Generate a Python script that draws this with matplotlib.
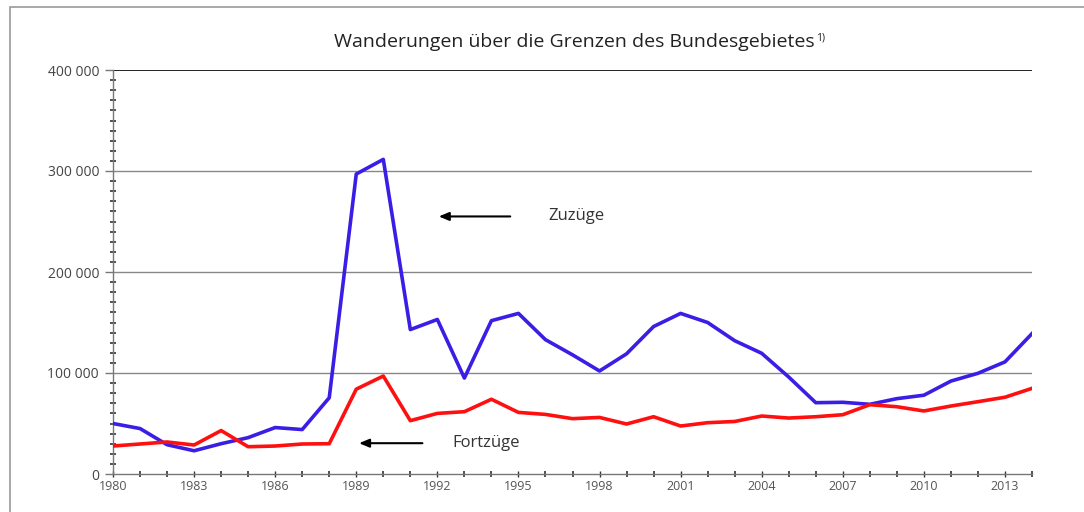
import matplotlib
matplotlib.use("Agg")
import matplotlib.pyplot as plt
from matplotlib.ticker import MultipleLocator, FuncFormatter
from matplotlib.patches import Rectangle

years = list(range(1980, 2015))
zuzuege = [50000, 45000, 29000, 23000, 30000, 36000, 46000, 44000, 75500, 297000,
           311500, 143000, 153000, 95000, 151800, 159000, 133000, 118000, 102000, 119000,
           146000, 159000, 150000, 132000, 119500, 96000, 70600, 71000, 69000, 74600,
           78000, 92000, 99700, 111000, 139000]
fortzuege = [27700, 29700, 31700, 28700, 43000, 27000, 27700, 29700, 30000, 84000,
             97000, 52800, 60000, 61700, 74000, 61000, 59000, 54800, 56000, 49500,
             56700, 47500, 50800, 52000, 57400, 55400, 56700, 58700, 68600, 66600,
             62400, 67300, 71600, 76000, 84800]
title = "Wanderungen über die Grenzen des Bundesgebietes"

plt.rcParams["font.family"] = ["Open Sans", "DejaVu Sans"]

fig = plt.figure(figsize=(10.84, 5.12), dpi=100)
ax = fig.add_axes([113 / 1084, 1 - 474 / 512, (1032 - 113) / 1084, (474 - 70) / 512])

# outer frame (runs off the right/bottom edge like the scan)
fig.patches.append(Rectangle((10 / 1084, -0.1), 1.2, 1 - 7 / 512 + 0.1,
                             transform=fig.transFigure, fill=False,
                             edgecolor="#9a9a9a", lw=1.2))

ax.plot(years, zuzuege, color="#3a1ee6", lw=2.6, solid_joinstyle="round", zorder=3)
ax.plot(years, fortzuege, color="#ff1010", lw=2.6, solid_joinstyle="round", zorder=3)

ax.set_xlim(1980, 2014)
ax.set_ylim(0, 400000)

for v in (100000, 200000, 300000):
    ax.axhline(v, color="#888888", lw=1.0, zorder=1)
ax.axhline(400000, color="#222222", lw=1.4, zorder=2)

for s in ("top", "right"):
    ax.spines[s].set_visible(False)
for s in ("left", "bottom"):
    ax.spines[s].set_color("#777777")
    ax.spines[s].set_linewidth(1.0)

ax.yaxis.set_major_locator(MultipleLocator(100000))
ax.yaxis.set_minor_locator(MultipleLocator(10000))
ax.yaxis.set_major_formatter(FuncFormatter(lambda v, p: f"{int(v):,}".replace(",", " ")))
ax.tick_params(axis="y", which="major", direction="out", length=6, width=1,
               color="#777777", labelsize=10, labelcolor="#444444", pad=4)
ax.tick_params(axis="y", which="minor", direction="inout", length=4, width=1.2,
               color="#333333")

ax.set_xticks(range(1980, 2015, 3))
ax.xaxis.set_minor_locator(MultipleLocator(1))
ax.tick_params(axis="x", which="major", direction="inout", length=5, width=1,
               color="#333333", labelsize=9, labelcolor="#555555", pad=2)
ax.tick_params(axis="x", which="minor", direction="inout", length=5, width=1.2,
               color="#333333")

t = fig.text(574 / 1084, 1 - 42 / 512, title, ha="center", va="center",
             fontsize=14, color="#222222")
# footnote marker placed right after the title
ax.annotate("1)", xy=(1.0, 1.0), xycoords=t, xytext=(1, 0), textcoords="offset points",
            ha="left", va="top", fontsize=7.5, color="#222222", annotation_clip=False)

arrow = dict(arrowstyle="-|>,head_length=0.6,head_width=0.25", color="black", lw=1.5)
ax.annotate("", xy=(1991.95, 255000), xytext=(1994.8, 255000), arrowprops=arrow)
ax.text(1996.1, 255000, "Zuzüge", ha="left", va="center", fontsize=12, color="#333333")
ax.annotate("", xy=(1989.0, 30500), xytext=(1991.55, 30500), arrowprops=arrow)
ax.text(1992.55, 30500, "Fortzüge", ha="left", va="center", fontsize=12, color="#333333")

fig.savefig("out.png", dpi=100)
